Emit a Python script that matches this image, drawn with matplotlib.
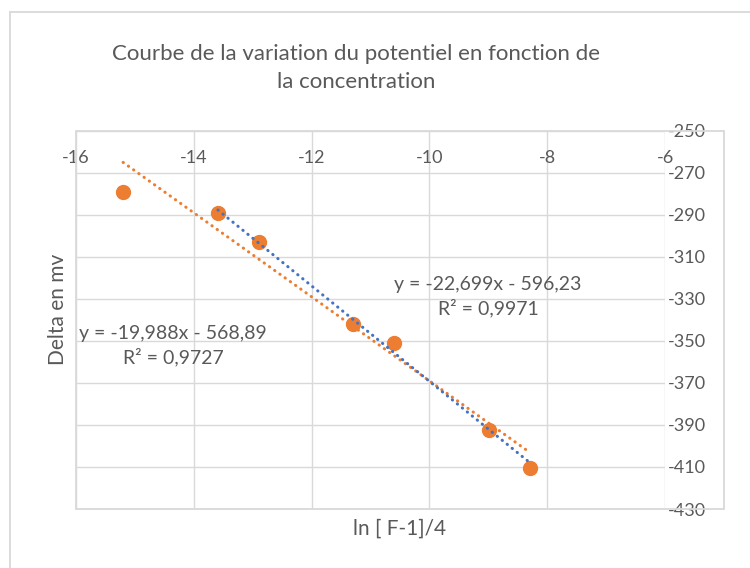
import numpy as np
import matplotlib
matplotlib.use("Agg")
import matplotlib.pyplot as plt
from matplotlib.patches import Rectangle
from matplotlib.lines import Line2D

plt.rcParams['font.family'] = ['Lato', 'DejaVu Sans']
plt.rcParams['axes.unicode_minus'] = False

# donnees
ln_conc = [-15.20, -13.59, -12.90, -11.29, -10.60, -8.99, -8.29]
delta_mv = [-279, -289, -303, -342, -351, -392.5, -410.5]

# courbes de tendance (pente, ordonnee a l'origine)
fit_all = [-19.988, -568.89]
fit_part = [-22.699, -596.23]
eq_all = "y = -19,988x - 568,89\nR² = 0,9727"
eq_part = "y = -22,699x - 596,23\nR² = 0,9971"

xticks = [-16, -14, -12, -10, -8, -6]
yticks = [-250, -270, -290, -310, -330, -350, -370, -390, -410, -430]

orange = '#ED7D31'
blue = '#4472C4'
grey_txt = '#595959'
grid_c = '#D9D9D9'

W, H = 750, 568
fig = plt.figure(figsize=(W / 100, H / 100), dpi=100)

def fx(px):
    return px / W

def fy(py):
    return 1 - py / H

ax = fig.add_axes([fx(76), fy(509), fx(665) - fx(76), fy(130.7) - fy(509)])
ax.set_xlim(-16, -6)
ax.set_ylim(-430, -250)
ax.set_xticks(xticks)
ax.set_yticks(yticks)
ax.grid(True, color=grid_c, lw=1.0)
ax.set_axisbelow(True)
for s in ax.spines.values():
    s.set_visible(False)

ax.tick_params(axis='x', which='both', bottom=False, top=False,
               labelbottom=False, labeltop=True, pad=-29,
               labelsize=13, labelcolor=grey_txt)
ax.tick_params(axis='y', which='both', left=False, right=False,
               labelleft=False, labelright=True, pad=-1.5,
               labelsize=13, labelcolor=grey_txt)

# points
ax.plot(ln_conc, delta_mv, 'o', color=orange, ms=10, zorder=3, clip_on=False)

# tendances
x_all = np.array([min(ln_conc), max(ln_conc)])
ax.plot(x_all, fit_all[0] * x_all + fit_all[1], color=orange, lw=2.2,
        linestyle=(0, (0.1, 2)), dash_capstyle='round', zorder=4)
x_part = np.array([min(ln_conc[1:]), max(ln_conc[1:])])
ax.plot(x_part, fit_part[0] * x_part + fit_part[1], color=blue, lw=2.2,
        linestyle=(0, (0.1, 2)), dash_capstyle='round', zorder=4)

# cadre de la zone de trace
fig.add_artist(Rectangle((fx(76), fy(509)), fx(724) - fx(76), fy(130.7) - fy(509),
                         transform=fig.transFigure, fill=False, ec=grid_c, lw=1.3))
# cadre du graphique
fig.add_artist(Line2D([fx(10), 1], [fy(12), fy(12)], color=grid_c, lw=1.3,
                      transform=fig.transFigure))
fig.add_artist(Line2D([fx(10), fx(10)], [0, fy(12)], color=grid_c, lw=1.3,
                      transform=fig.transFigure))

fig.text(fx(356), fy(68), "Courbe de la variation du potentiel en fonction de\nla concentration",
         ha='center', va='center', fontsize=16, color=grey_txt, linespacing=1.45)

fig.text(fx(173), fy(345.5), eq_all, ha='center', va='center', fontsize=14,
         color=grey_txt, linespacing=1.4)
fig.text(fx(488), fy(296.5), eq_part, ha='center', va='center', fontsize=14,
         color=grey_txt, linespacing=1.4)

fig.text(fx(400), fy(529), "ln [ F-1]/4", ha='center', va='center', fontsize=15,
         color=grey_txt)
fig.text(fx(58), fy(309), "Delta en mv", ha='center', va='center', fontsize=15,
         color=grey_txt, rotation=90)

fig.savefig("out.png", dpi=100)
